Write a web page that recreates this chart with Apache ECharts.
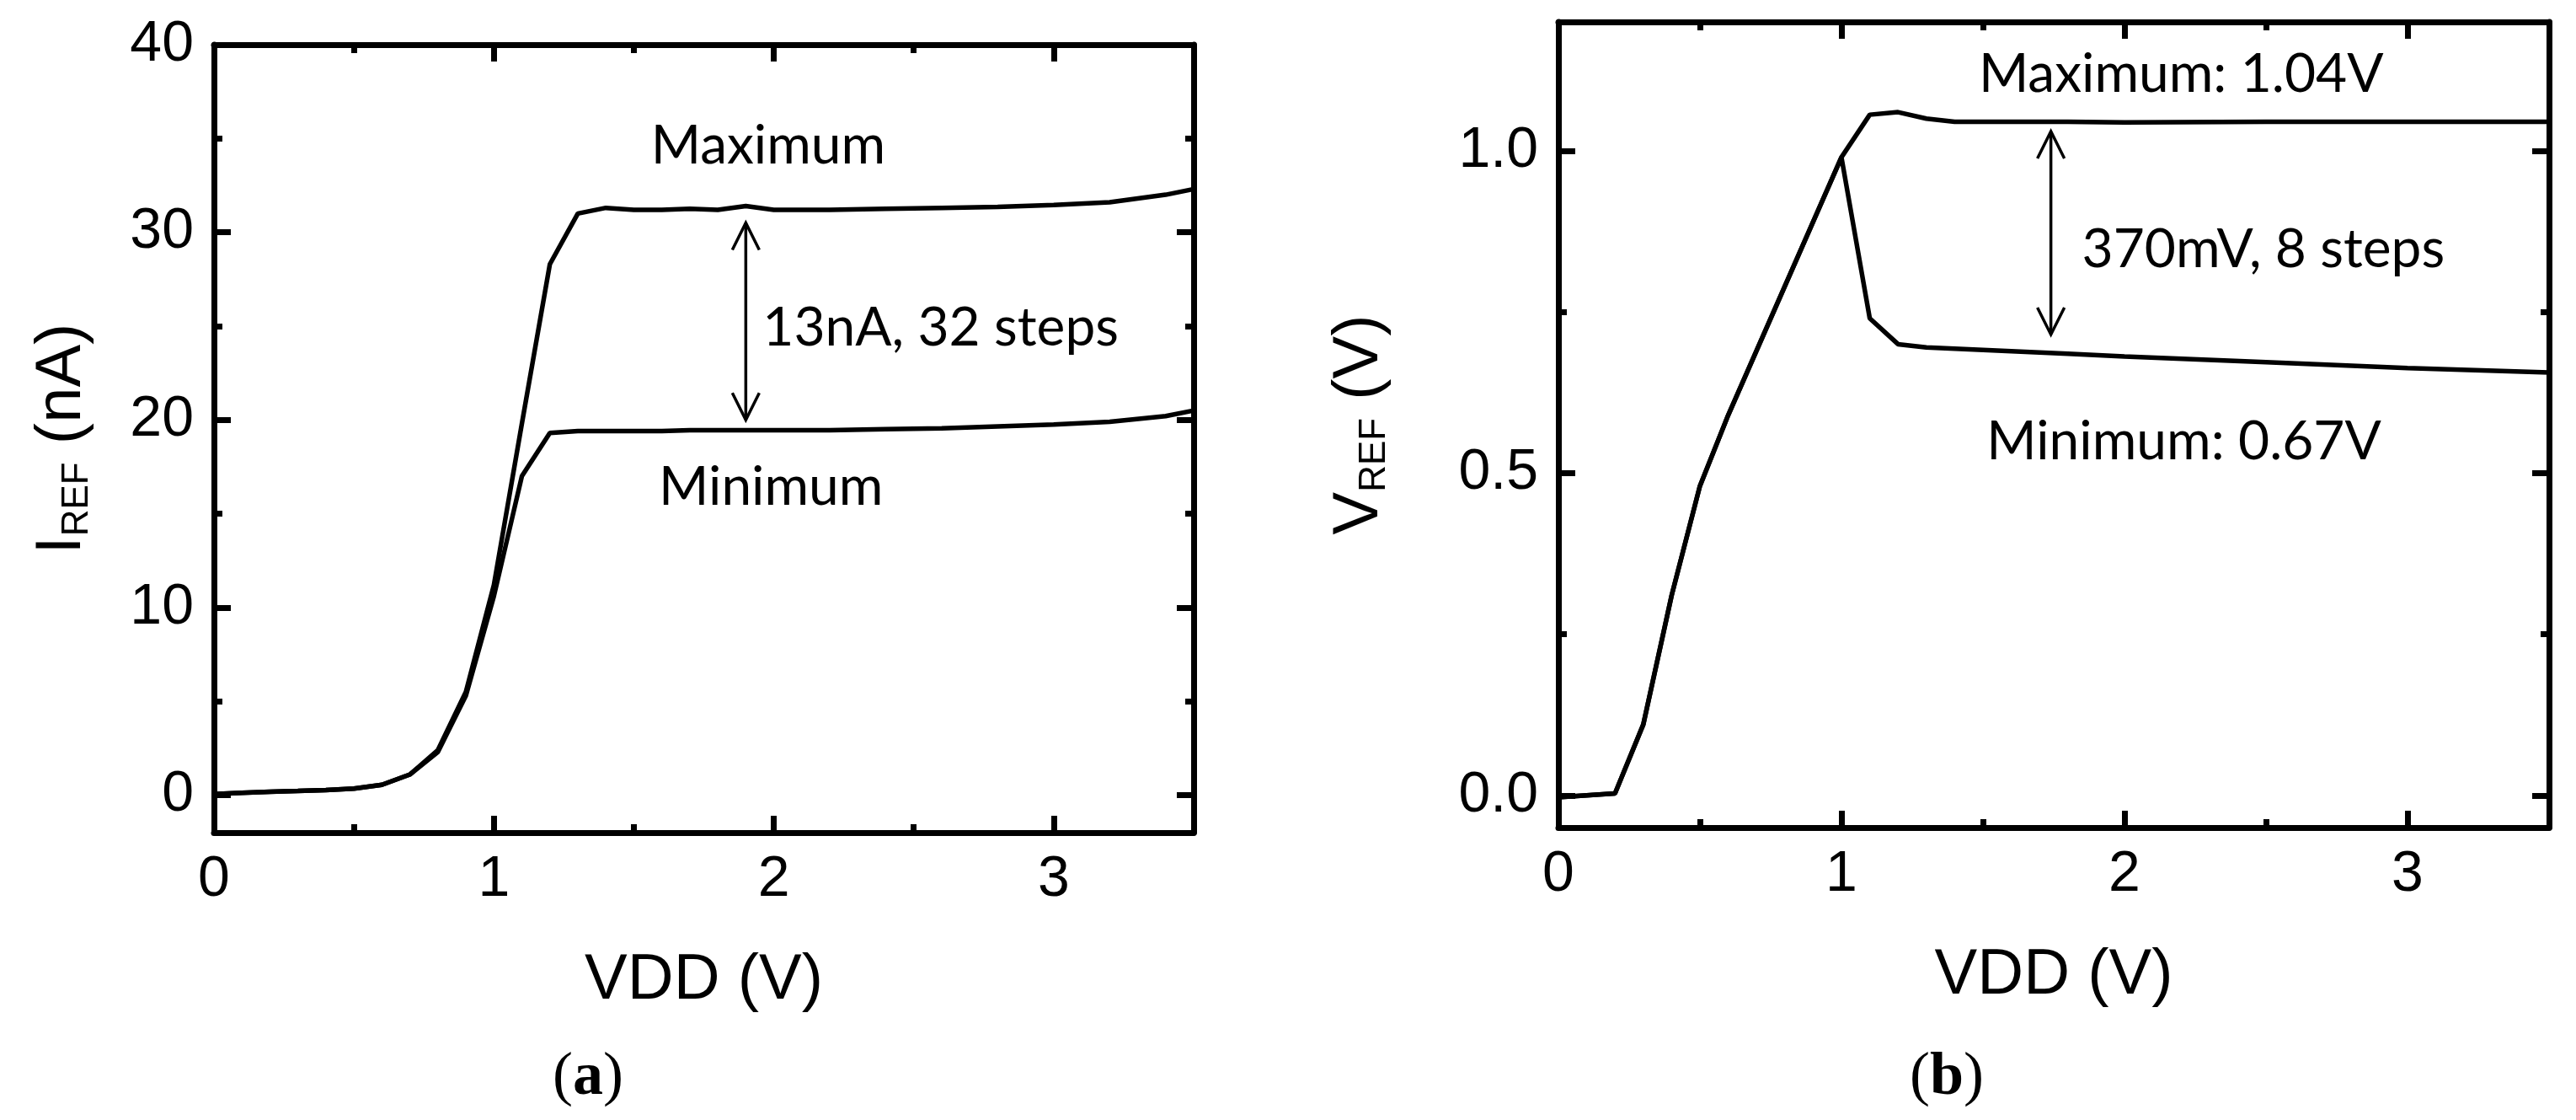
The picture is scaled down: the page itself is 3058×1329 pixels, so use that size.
<!DOCTYPE html>
<html>
<head>
<meta charset="utf-8">
<script src="https://cdn.jsdelivr.net/npm/echarts@6/dist/echarts.min.js"></script>
<style>
  html, body { margin: 0; padding: 0; background: #fff; }
  #chart { width: 3058px; height: 1329px; }
</style>
</head>
<body>
<div id="chart"></div>
<script>
// (a) reference current I_REF (nA) against VDD (V)
const vddA = [0, 0.1, 0.2, 0.3, 0.4, 0.5, 0.6, 0.7, 0.8, 0.9, 1.0, 1.1, 1.2, 1.3, 1.4, 1.5, 1.6, 1.7, 1.8, 1.9, 2.0, 2.2, 2.4, 2.6, 2.8, 3.0, 3.2, 3.4, 3.5];
const iRefMax = [0.05, 0.12, 0.18, 0.22, 0.27, 0.35, 0.55, 1.1, 2.4, 5.5, 11.2, 19.8, 28.3, 31.0, 31.3, 31.2, 31.2, 31.25, 31.2, 31.4, 31.2, 31.2, 31.25, 31.3, 31.35, 31.45, 31.6, 32.0, 32.3];
const iRefMin = [0.05, 0.12, 0.18, 0.22, 0.27, 0.35, 0.55, 1.1, 2.3, 5.3, 10.6, 17.0, 19.3, 19.4, 19.4, 19.4, 19.4, 19.45, 19.45, 19.45, 19.45, 19.45, 19.5, 19.55, 19.65, 19.75, 19.9, 20.2, 20.5];

// (b) reference voltage V_REF (V) against VDD (V)
const vddB = [0, 0.1, 0.2, 0.3, 0.4, 0.5, 0.6, 0.7, 0.8, 0.9, 1.0, 1.1, 1.2, 1.3, 1.4, 1.6, 1.8, 2.0, 2.5, 3.0, 3.5];
const vRefMax = [-0.003, 0, 0.003, 0.11, 0.31, 0.48, 0.59, 0.69, 0.79, 0.89, 0.99, 1.056, 1.06, 1.05, 1.045, 1.045, 1.045, 1.044, 1.045, 1.045, 1.045];
const vRefMin = [-0.003, 0, 0.003, 0.11, 0.31, 0.48, 0.59, 0.69, 0.79, 0.89, 0.99, 0.74, 0.70, 0.695, 0.693, 0.689, 0.685, 0.681, 0.672, 0.663, 0.656];

// ticks
const vddMajor = [0, 1, 2, 3];
const vddMinor = [0.5, 1.5, 2.5];
const iMajor = [0, 10, 20, 30, 40];
const iMinor = [5, 15, 25, 35];
const vMajor = [0, 0.5, 1.0];
const vMinor = [0.25, 0.75];

// double arrows: [vdd, from, to]
const arrowA = [1.9, 30.5, 20.0];
const arrowB = [1.74, 1.03, 0.715];

// notes: [text, vdd, value, align]
const notesA = [
    ['Maximum', 1.98, 34.6, 'center'],
    ['Minimum', 1.99, 16.4, 'center'],
    ['13nA, 32 steps', 1.96, 24.9, 'left']
];
const notesB = [
    ['Maximum: 1.04V', 2.2, 1.119, 'center'],
    ['370mV, 8 steps', 1.85, 0.847, 'left'],
    ['Minimum: 0.67V', 2.21, 0.549, 'center']
];

const black = '#000';
const tickFont = 'Liberation Sans';
const noteFont = 'Lato';

function makeAxes(dim, gridIndex, min, max, major, minor, extra) {
    const sides = dim === 'x' ? ['bottom', 'top'] : ['left', 'right'];
    const axes = [];
    sides.forEach(function (side, s) {
        [major, minor].forEach(function (vals, m) {
            const main = s === 0 && m === 0;
            axes.push(Object.assign({
                type: 'value',
                gridIndex: gridIndex,
                position: side,
                min: min,
                max: max,
                axisLine: {show: m === 0, onZero: false, lineStyle: {color: black, width: 7}},
                axisTick: {
                    show: true,
                    inside: true,
                    length: m === 0 ? 20 : 10,
                    customValues: vals,
                    lineStyle: {color: black, width: 7}
                },
                axisLabel: {
                    show: main,
                    customValues: major,
                    color: black,
                    fontFamily: tickFont,
                    fontSize: 68,
                    margin: dim === 'x' ? 22 : 24
                },
                splitLine: {show: false}
            }, main ? extra : {}));
        });
    });
    return axes;
}

const xName = {
    name: 'VDD (V)',
    nameLocation: 'middle',
    nameGap: 138,
    nameTextStyle: {color: black, fontFamily: tickFont, fontSize: 76}
};

function yName(base, unit, gap) {
    return {
        name: '{m|' + base + '}{s|REF}{m| ' + unit + '}',
        nameLocation: 'middle',
        nameRotate: 90,
        nameGap: gap,
        nameTextStyle: {
            color: black,
            fontFamily: tickFont,
            fontSize: 76,
            rich: {
                m: {fontFamily: tickFont, fontSize: 76, color: black, lineHeight: 80},
                s: {fontFamily: tickFont, fontSize: 44, color: black, lineHeight: 24, verticalAlign: 'bottom'}
            }
        }
    };
}

const xAxes = makeAxes('x', 0, 0, 3.5, vddMajor, vddMinor, xName)
    .concat(makeAxes('x', 1, 0, 3.5, vddMajor, vddMinor, xName));
const yAxes = makeAxes('y', 0, -2, 40, iMajor, iMinor, yName('I', '(nA)', 140))
    .concat(makeAxes('y', 1, -0.05, 1.2, vMajor, vMinor, yName('V', '(V)', 196)));
yAxes[4].axisLabel.formatter = function (v) { return Number(v).toFixed(1); };

function curve(xs, ys, axisIndex) {
    return {
        type: 'line',
        xAxisIndex: axisIndex,
        yAxisIndex: axisIndex,
        data: xs.map(function (x, i) { return [x, ys[i]]; }),
        symbol: 'none',
        lineStyle: {color: black, width: 5.5},
        silent: true,
        z: 3
    };
}

function arrowSeries(arrow, axisIndex) {
    return {
        type: 'custom',
        xAxisIndex: axisIndex,
        yAxisIndex: axisIndex,
        data: [arrow],
        silent: true,
        renderItem: function (params, api) {
            const p1 = api.coord([api.value(0), api.value(1)]);
            const p2 = api.coord([api.value(0), api.value(2)]);
            const hw = 16, hl = 32;
            const style = {stroke: black, lineWidth: 3.5, fill: null};
            return {
                type: 'group',
                children: [
                    {type: 'line', shape: {x1: p1[0], y1: p1[1], x2: p2[0], y2: p2[1]}, style: style},
                    {type: 'polyline', shape: {points: [[p1[0] - hw, p1[1] + hl], p1, [p1[0] + hw, p1[1] + hl]]}, style: style},
                    {type: 'polyline', shape: {points: [[p2[0] - hw, p2[1] - hl], p2, [p2[0] + hw, p2[1] - hl]]}, style: style}
                ]
            };
        }
    };
}

function noteSeries(notes, axisIndex) {
    return {
        type: 'custom',
        xAxisIndex: axisIndex,
        yAxisIndex: axisIndex,
        data: notes.map(function (n) { return [n[1], n[2]]; }),
        silent: true,
        renderItem: function (params, api) {
            const n = notes[params.dataIndex];
            const p = api.coord([api.value(0), api.value(1)]);
            return {
                type: 'text',
                x: p[0],
                y: p[1],
                style: {
                    text: n[0],
                    fill: black,
                    fontFamily: noteFont,
                    fontSize: 64,
                    align: n[3],
                    verticalAlign: 'middle'
                }
            };
        }
    };
}

function panelTag(letter, x) {
    return {
        type: 'text',
        x: x,
        y: 1279,
        style: {
            text: '{n|(}{b|' + letter + '}{n|)}',
            align: 'center',
            verticalAlign: 'middle',
            rich: {
                n: {fontFamily: 'Liberation Serif', fontSize: 72, fill: black},
                b: {fontFamily: 'Liberation Serif', fontSize: 72, fontWeight: 'bold', fill: black}
            }
        }
    };
}

const chart = echarts.init(document.getElementById('chart'));
chart.setOption({
    backgroundColor: '#fff',
    animation: false,
    grid: [
        {left: 254, top: 53, width: 1163, height: 935},
        {left: 1850, top: 26, width: 1176, height: 956}
    ],
    xAxis: xAxes,
    yAxis: yAxes,
    series: [
        curve(vddA, iRefMax, 0),
        curve(vddA, iRefMin, 0),
        curve(vddB, vRefMax, 4),
        curve(vddB, vRefMin, 4),
        arrowSeries(arrowA, 0),
        arrowSeries(arrowB, 4),
        noteSeries(notesA, 0),
        noteSeries(notesB, 4)
    ],
    graphic: [panelTag('a', 698), panelTag('b', 2311)]
});
</script>
</body>
</html>
